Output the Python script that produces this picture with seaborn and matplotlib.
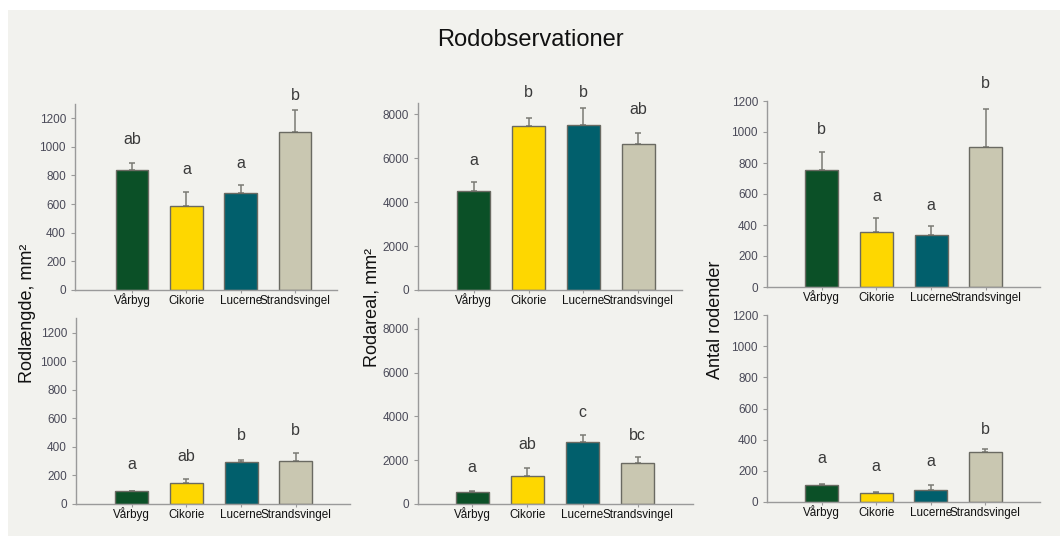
import pandas as pd
import matplotlib.pyplot as plt
import seaborn as sns
from matplotlib.patches import Rectangle

crops = ['Vårbyg', 'Cikorie', 'Lucerne', 'Strandsvingel']
colors = ['#0b5027', '#fed700', '#015f6c', '#c9c7b1']

# top row
length_top = [837, 586, 679, 1105]
length_top_err = [50, 100, 55, 150]
length_top_sig = ['ab', 'a', 'a', 'b']
area_top = [4500, 7470, 7500, 6650]
area_top_err = [400, 370, 780, 480]
area_top_sig = ['a', 'b', 'b', 'ab']
tips_top = [755, 357, 337, 903]
tips_top_err = [116, 88, 57, 245]
tips_top_sig = ['b', 'a', 'a', 'b']

# bottom row
length_bot = [88, 150, 295, 298]
length_bot_err = [4, 28, 10, 62]
length_bot_sig = ['a', 'ab', 'b', 'b']
area_bot = [540, 1270, 2850, 1870]
area_bot_err = [40, 380, 320, 260]
area_bot_sig = ['a', 'ab', 'c', 'bc']
tips_bot = [109, 58, 78, 321]
tips_bot_err = [7, 5, 30, 18]
tips_bot_sig = ['a', 'a', 'a', 'b']

sns.set_style('ticks')
plt.rcParams['font.family'] = ['Liberation Sans', 'DejaVu Sans']

W, H = 1060, 536
fig = plt.figure(figsize=(W / 100, H / 100), dpi=100)
fig.patches.append(Rectangle((8 / W, 0), 1, 1 - 10 / H, transform=fig.transFigure,
                             facecolor='#f2f2ee', edgecolor='none', zorder=-10))


def panel(box, vals, errs, sig, ymax, ystep, xlim, sig_y):
    x0, x1, ybase, ytop = box
    ax = fig.add_axes([x0 / W, 1 - ybase / H, (x1 - x0) / W, (ybase - ytop) / H])
    ax.set_facecolor('none')
    df = pd.DataFrame({'crop': crops, 'val': vals})
    sns.barplot(data=df, x='crop', y='val', hue='crop', palette=colors, saturation=1,
                width=0.6, edgecolor='#6a6a62', linewidth=1, legend=False, ax=ax, zorder=2)
    ax.errorbar(range(4), vals, yerr=[[0] * 4, errs], fmt='none', ecolor='#7a7a74',
                elinewidth=1.1, capsize=2.5, capthick=1.1, zorder=1)
    for i, s in enumerate(sig):
        ax.text(i, sig_y[i], s, ha='center', va='center', fontsize=11.5,
                color='#3a3a3a', clip_on=False)
    ax.set_xlim(*xlim)
    ax.set_ylim(0, ymax)
    ax.set_yticks(range(0, ymax + 1, ystep) if ymax % ystep == 0 else range(0, ymax, ystep))
    ax.set_xlabel('')
    ax.set_ylabel('')
    ax.tick_params(axis='y', labelsize=8.5, labelcolor='#4a4a58', color='#9a9a9a', length=3, width=0.8)
    ax.tick_params(axis='x', labelsize=8.4, labelcolor='#111111', color='#9a9a9a', length=2.5,
                   width=0.8, pad=7.5)
    for lbl in ax.get_xticklabels():
        lbl.set_verticalalignment('baseline')
    for sp in ['top', 'right']:
        ax.spines[sp].set_visible(False)
    for sp in ['left', 'bottom']:
        ax.spines[sp].set_color('#9a9a9a')
        ax.spines[sp].set_linewidth(1)
    return ax


panel((75, 337, 290, 103.7), length_top, length_top_err, length_top_sig, 1300, 200,
      (-1.05, 3.77), [1053, 844, 886, 1360])
panel((418, 682, 290, 103.3), area_top, area_top_err, area_top_sig, 8500, 2000,
      (-1.02, 3.80), [5874, 8970, 8970, 8197])
panel((767, 1040, 287, 101), tips_top, tips_top_err, tips_top_sig, 1200, 200,
      (-1.0, 3.99), [1019, 587, 529, 1316])
panel((76, 350, 504, 318.4), length_bot, length_bot_err, length_bot_sig, 1300, 200,
      (-1.02, 3.99), [280, 336, 483, 518])
panel((418, 693, 504, 318), area_bot, area_bot_err, area_bot_sig, 8500, 2000,
      (-0.98, 4.0), [1650, 2700, 4160, 3150])
panel((767, 1040, 502, 315), tips_bot, tips_bot_err, tips_bot_sig, 1200, 200,
      (-1.0, 4.0), [276, 231, 257, 468])

fig.text(530 / W, 1 - 40 / H, 'Rodobservationer', ha='center', va='center', fontsize=17, color='#111111')
fig.text(27 / W, 1 - 313 / H, 'Rodlængde, mm²', rotation=90, ha='center', va='center', fontsize=13, color='#111111')
fig.text(372 / W, 1 - 307 / H, 'Rodareal, mm²', rotation=90, ha='center', va='center', fontsize=13, color='#111111')
fig.text(716 / W, 1 - 320 / H, 'Antal rodender', rotation=90, ha='center', va='center', fontsize=13, color='#111111')

fig.savefig('out.png', dpi=100)
